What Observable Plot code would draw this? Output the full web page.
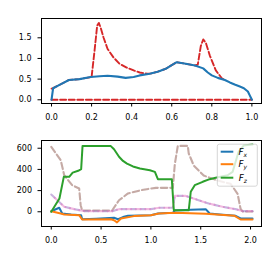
<!DOCTYPE html>
<html>
<head>
<meta charset="utf-8">
<script src="https://cdn.jsdelivr.net/npm/d3@7"></script>
<script src="https://cdn.jsdelivr.net/npm/@observablehq/plot@0.6"></script>
<style>
  html, body { margin: 0; padding: 0; background: #fff; }
  #chart svg { display: block; }
</style>
</head>
<body>
<div id="chart"></div>
<script>
// ---------- Top panel data ----------
const topXTicks = [0, 0.2, 0.4, 0.6, 0.8, 1.0];
const topYTicks = [0, 0.5, 1.0, 1.5];
const topSolid = [[0,0],[0.008,0.28],[0.04,0.36],[0.087,0.48],[0.14,0.5],[0.195,0.55],[0.24,0.57],[0.28,0.58],[0.33,0.56],[0.37,0.53],[0.41,0.55],[0.44,0.59],[0.49,0.63],[0.53,0.68],[0.57,0.75],[0.6,0.84],[0.625,0.91],[0.67,0.87],[0.716,0.83],[0.757,0.76],[0.78,0.66],[0.8,0.59],[0.83,0.53],[0.865,0.48],[0.89,0.42],[0.914,0.37],[0.94,0.32],[0.96,0.28],[0.98,0.2],[0.99,0.1],[1.0,0]];
const topUpper = [[0,0.27],[0.008,0.28],[0.087,0.48],[0.14,0.5],[0.2,0.55],[0.215,1.2],[0.228,1.8],[0.236,1.86],[0.245,1.75],[0.26,1.5],[0.28,1.23],[0.31,1.02],[0.34,0.87],[0.375,0.78],[0.41,0.71],[0.44,0.66],[0.476,0.63],[0.5,0.64],[0.53,0.68],[0.57,0.75],[0.6,0.84],[0.625,0.91],[0.67,0.87],[0.716,0.83],[0.73,0.85],[0.745,1.3],[0.757,1.46],[0.77,1.38],[0.79,1.07],[0.82,0.71],[0.85,0.52],[0.865,0.48]];
const topLower = [[0,0],[1.0,0]];

// ---------- Bottom panel data ----------
const botXTicks = [0, 0.5, 1.0, 1.5, 2.0];
const botYTicks = [0, 200, 400, 600];
const Fx = [[0,5],[0.08,38],[0.11,-16],[0.2,-25],[0.3,-32],[0.31,-70],[0.45,-65],[0.63,-57],[0.67,-70],[0.72,-50],[0.77,-38],[0.9,-35],[1.0,-32],[1.07,-16],[1.22,-10],[1.24,12],[1.4,18],[1.55,25],[1.59,-16],[1.69,-25],[1.85,-38],[1.9,-63],[2.02,-63]];
const Fy = [[0,5],[0.095,-16],[0.13,-25],[0.28,-32],[0.31,-73],[0.6,-70],[0.63,-80],[0.66,-100],[0.7,-63],[0.83,-41],[1.0,-32],[1.08,-16],[1.24,-10],[1.55,-18],[1.84,-38],[1.9,-73],[2.02,-73]];
const Fz = [[0,0],[0.082,125],[0.126,330],[0.18,330],[0.215,370],[0.27,387],[0.3,402],[0.314,622],[0.595,622],[0.63,590],[0.68,519],[0.72,480],[0.76,455],[0.82,428],[0.89,408],[0.99,392],[1.04,377],[1.07,308],[1.21,308],[1.23,15],[1.38,15],[1.4,189],[1.44,251],[1.52,283],[1.59,308],[1.65,321],[1.77,345],[1.82,377],[1.88,566],[1.93,625],[2.02,635]];
const boundFz = [[0,613],[0.095,487],[0.13,345],[0.21,251],[0.28,220],[0.295,62],[0.31,12],[0.61,12],[0.68,109],[0.77,173],[0.9,204],[1.0,220],[1.05,226],[1.22,226],[1.24,450],[1.27,622],[1.37,622],[1.38,550],[1.43,437],[1.53,342],[1.67,295],[1.8,264],[1.87,170],[1.9,28],[1.92,3],[2.02,3]];
const boundFxy = [[0,163],[0.06,110],[0.13,47],[0.23,25],[0.33,6],[0.61,5],[0.68,25],[1.0,25],[1.08,38],[1.22,38],[1.24,150],[1.35,150],[1.45,119],[1.58,78],[1.72,47],[1.85,25],[1.92,6],[2.02,6]];
const legendNames = ["x", "y", "z"];
const legendColors = ["#1f77b4", "#ff7f0e", "#2ca02c"];

const FONT = "DejaVu Sans";
const fmt1 = d3.format(".1f");
const X = d => d[0], Y = d => d[1];

function axes(xt, yt, xf, yf, yPad) {
  return [
    Plot.axisX({ticks: xt, tickFormat: xf, tickSize: 3.5, tickPadding: 7.2, fontSize: 8, color: "black", label: null}),
    Plot.axisY({ticks: yt, tickFormat: yf, tickSize: 3.5, tickPadding: yPad, fontSize: 8, color: "black", label: null}),
    Plot.frame({stroke: "black", strokeWidth: 1})
  ];
}

const topChart = Plot.plot({
  width: 280, height: 130,
  marginLeft: 41, marginRight: 19, marginTop: 18, marginBottom: 27,
  style: {fontFamily: FONT, background: "white"},
  x: {domain: [-0.05, 1.048]},
  y: {domain: [-0.09, 1.967]},
  marks: [
    Plot.line(topUpper, {x: X, y: Y, stroke: "#d62728", strokeWidth: 1.9, strokeDasharray: "6,2.6"}),
    Plot.line(topLower, {x: X, y: Y, stroke: "#d62728", strokeWidth: 1.9, strokeDasharray: "6,2.6"}),
    Plot.line(topSolid, {x: X, y: Y, stroke: "#1f77b4", strokeWidth: 2.1}),
    ...axes(topXTicks, topYTicks, fmt1, fmt1, 6.5)
  ]
});

function legendMark(index, scales, values, dims) {
  const g = d3.create("svg:g").attr("font-family", FONT);
  const right = dims.width - dims.marginRight - 3.7;
  const topY = dims.marginTop + 4.2;
  const w = 40, h = 42;
  const x0 = right - w;
  g.append("rect").attr("x", x0).attr("y", topY).attr("width", w).attr("height", h)
    .attr("rx", 2).attr("fill", "white").attr("fill-opacity", 0.8)
    .attr("stroke", "#cccccc").attr("stroke-width", 0.8);
  const rowY = [7.5, 20, 33.5];
  legendNames.forEach((n, i) => {
    const cy = topY + rowY[i];
    g.append("line").attr("x1", x0 + 3.4).attr("x2", x0 + 16).attr("y1", cy).attr("y2", cy)
      .attr("stroke", legendColors[i]).attr("stroke-width", 2);
    const t = g.append("text").attr("x", x0 + 25.5).attr("y", cy + 3).attr("font-size", 8.8).attr("fill", "black");
    t.append("tspan").attr("font-style", "italic").text("F");
    t.append("tspan").attr("font-style", "italic").attr("font-size", 6).attr("dy", 1.8).text(n);
  });
  return g.node();
}

const bottomChart = Plot.plot({
  width: 280, height: 130,
  marginLeft: 41, marginRight: 19, marginTop: 10, marginBottom: 34,
  style: {fontFamily: FONT, background: "white"},
  x: {domain: [-0.098, 2.11]},
  y: {domain: [-139, 673]},
  marks: [
    Plot.line(boundFz, {x: X, y: Y, stroke: "#8c564b", strokeOpacity: 0.5, strokeWidth: 2.1, strokeDasharray: "6.5,3"}),
    Plot.line(boundFxy, {x: X, y: Y, stroke: "#9467bd", strokeOpacity: 0.5, strokeWidth: 2.1, strokeDasharray: "4.75,4.75"}),
    Plot.line(boundFxy, {x: X, y: Y, stroke: "#e377c2", strokeOpacity: 0.5, strokeWidth: 2.1, strokeDasharray: "4.75,4.75", strokeDashoffset: 4.75}),
    Plot.line(Fx, {x: X, y: Y, stroke: legendColors[0], strokeWidth: 2}),
    Plot.line(Fy, {x: X, y: Y, stroke: legendColors[1], strokeWidth: 2}),
    Plot.line(Fz, {x: X, y: Y, stroke: legendColors[2], strokeWidth: 2}),
    ...axes(botXTicks, botYTicks, fmt1, d3.format("d"), 6),
    legendMark
  ]
});

document.getElementById("chart").append(topChart, bottomChart);
</script>
</body>
</html>
